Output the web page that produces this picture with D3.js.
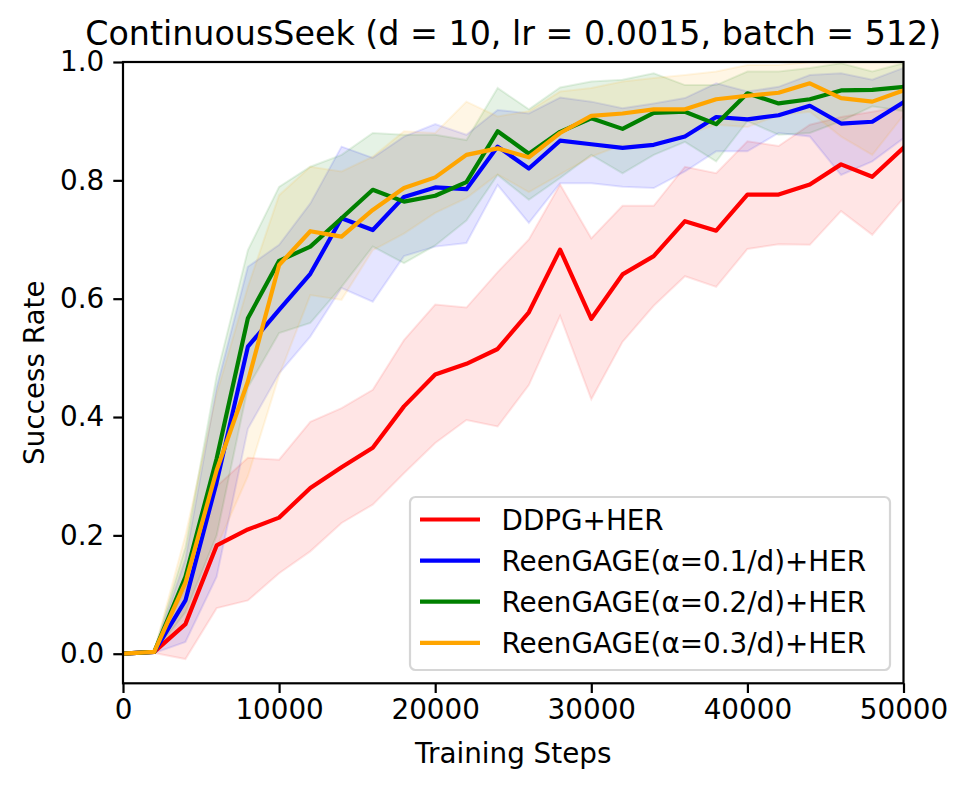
<!DOCTYPE html>
<html>
<head>
<meta charset="utf-8">
<script src="https://cdn.jsdelivr.net/npm/d3@7"></script>
<style>
  html, body { margin: 0; padding: 0; background: #fff; }
  svg { display: block; font-family: "DejaVu Sans", sans-serif; }
</style>
</head>
<body>
<svg id="chart" width="968" height="789"></svg>
<script>
// --- data ---
const steps = [0, 2000, 4000, 6000, 8000, 10000, 12000, 14000, 16000, 18000, 20000, 22000, 24000,
               26000, 28000, 30000, 32000, 34000, 36000, 38000, 40000, 42000, 44000, 46000, 48000, 50000];

const seriesNames = ["DDPG+HER", "ReenGAGE(α=0.1/d)+HER", "ReenGAGE(α=0.2/d)+HER", "ReenGAGE(α=0.3/d)+HER"];
const seriesColors = ["#ff0000", "#0000ff", "#008000", "#ffa500"];

const ddpgMean  = [0, 0.003, 0.05, 0.183, 0.21, 0.23, 0.28, 0.315, 0.348, 0.418, 0.472, 0.49, 0.515, 0.577, 0.683, 0.566, 0.641, 0.672, 0.731, 0.715, 0.776, 0.776, 0.793, 0.827, 0.806, 0.855];
const ddpgLow   = [0, 0.001, -0.009, 0.077, 0.09, 0.136, 0.173, 0.221, 0.252, 0.305, 0.356, 0.395, 0.384, 0.454, 0.571, 0.43, 0.527, 0.588, 0.638, 0.62, 0.684, 0.692, 0.691, 0.748, 0.708, 0.77];
const ddpgHigh  = [0, 0.005, 0.11, 0.283, 0.331, 0.328, 0.392, 0.415, 0.446, 0.53, 0.59, 0.585, 0.645, 0.70, 0.793, 0.702, 0.757, 0.757, 0.823, 0.812, 0.866, 0.858, 0.894, 0.907, 0.916, 0.925];

const reen1Mean = [0, 0.003, 0.09, 0.29, 0.519, 0.581, 0.642, 0.736, 0.716, 0.772, 0.788, 0.785, 0.857, 0.82, 0.867, 0.861, 0.855, 0.86, 0.874, 0.907, 0.903, 0.91, 0.926, 0.896, 0.899, 0.932];
const reen1Low  = [0, 0.001, 0.02, 0.13, 0.38, 0.474, 0.536, 0.618, 0.595, 0.672, 0.688, 0.694, 0.792, 0.728, 0.795, 0.795, 0.789, 0.787, 0.815, 0.849, 0.849, 0.88, 0.874, 0.809, 0.832, 0.871];
const reen1High = [0, 0.005, 0.16, 0.45, 0.654, 0.691, 0.761, 0.857, 0.838, 0.874, 0.895, 0.877, 0.919, 0.913, 0.94, 0.933, 0.922, 0.93, 0.939, 0.964, 0.95, 0.958, 0.978, 0.981, 0.97, 0.99];

const reen2Mean = [0, 0.003, 0.13, 0.33, 0.567, 0.664, 0.688, 0.736, 0.784, 0.764, 0.774, 0.797, 0.883, 0.845, 0.882, 0.905, 0.887, 0.914, 0.916, 0.895, 0.947, 0.93, 0.937, 0.952, 0.953, 0.958];
const reen2Low  = [0, 0.001, 0.07, 0.2, 0.45, 0.542, 0.559, 0.62, 0.688, 0.66, 0.69, 0.732, 0.809, 0.767, 0.804, 0.843, 0.812, 0.843, 0.865, 0.832, 0.9, 0.877, 0.88, 0.9, 0.925, 0.917];
const reen2High = [0, 0.005, 0.18, 0.47, 0.682, 0.789, 0.823, 0.843, 0.88, 0.877, 0.877, 0.868, 0.956, 0.92, 0.957, 0.967, 0.97, 0.981, 0.961, 0.961, 0.984, 0.984, 0.99, 0.998, 0.984, 0.998];

const reen3Mean = [0, 0.003, 0.12, 0.31, 0.46, 0.657, 0.714, 0.705, 0.75, 0.787, 0.805, 0.843, 0.854, 0.839, 0.88, 0.909, 0.913, 0.92, 0.92, 0.937, 0.943, 0.948, 0.964, 0.939, 0.933, 0.952];
const reen3Low  = [0, 0.001, 0.06, 0.18, 0.3, 0.47, 0.606, 0.598, 0.682, 0.71, 0.745, 0.77, 0.81, 0.78, 0.81, 0.84, 0.86, 0.86, 0.877, 0.894, 0.89, 0.91, 0.916, 0.874, 0.843, 0.91];
const reen3High = [0, 0.005, 0.2, 0.44, 0.62, 0.775, 0.823, 0.815, 0.84, 0.883, 0.88, 0.933, 0.908, 0.917, 0.95, 0.956, 0.967, 0.973, 0.978, 0.984, 0.995, 0.995, 1.0, 1.0, 1.0, 1.005];

const xTicks = [0, 10000, 20000, 30000, 40000, 50000];
const yTicks = [0.0, 0.2, 0.4, 0.6, 0.8, 1.0];

const titleText = "ContinuousSeek (d = 10, lr = 0.0015, batch = 512)";
const xLabelText = "Training Steps";
const yLabelText = "Success Rate";

// --- layout ---
const W = 968, H = 789;
const margin = { top: 62, right: 64.5, bottom: 105.7, left: 123 };
const innerW = W - margin.left - margin.right;
const innerH = H - margin.top - margin.bottom;
const fontSize = 27.8;
const lineW = 4.2;

const series = [
  { mean: ddpgMean,  low: ddpgLow,  high: ddpgHigh },
  { mean: reen1Mean, low: reen1Low, high: reen1High },
  { mean: reen2Mean, low: reen2Low, high: reen2High },
  { mean: reen3Mean, low: reen3Low, high: reen3High }
].map((s, i) => ({ ...s, name: seriesNames[i], color: seriesColors[i] }));

const svg = d3.select("#chart");

const x = d3.scaleLinear().domain([0, 50000]).range([0, innerW]);
const y = d3.scaleLinear().domain([-0.05, 1.0]).range([innerH, 0]);

svg.append("defs").append("clipPath").attr("id", "plot-clip")
  .append("rect").attr("width", innerW).attr("height", innerH);

const g = svg.append("g").attr("transform", `translate(${margin.left},${margin.top})`);
const plot = g.append("g").attr("clip-path", "url(#plot-clip)");

const area = d3.area()
  .x((d, i) => x(steps[i]))
  .y0(d => y(d[0]))
  .y1(d => y(d[1]));

const line = d3.line()
  .x((d, i) => x(steps[i]))
  .y(d => y(d));

// shaded bands first
series.forEach(s => {
  plot.append("path")
    .datum(s.low.map((v, i) => [v, s.high[i]]))
    .attr("d", area)
    .attr("fill", s.color)
    .attr("fill-opacity", 0.1)
    .attr("stroke", s.color)
    .attr("stroke-opacity", 0.1)
    .attr("stroke-width", 2);
});

// mean lines on top
series.forEach(s => {
  plot.append("path")
    .datum(s.mean)
    .attr("d", line)
    .attr("fill", "none")
    .attr("stroke", s.color)
    .attr("stroke-width", lineW)
    .attr("stroke-linejoin", "round")
    .attr("stroke-linecap", "square");
});

// --- axes ---
const xAxis = g.append("g")
  .attr("transform", `translate(0,${innerH})`)
  .call(d3.axisBottom(x).tickValues(xTicks).tickFormat(d3.format("d")).tickSize(9.7).tickPadding(6));

const yAxis = g.append("g")
  .call(d3.axisLeft(y).tickValues(yTicks).tickFormat(d3.format(".1f")).tickSize(9.7).tickPadding(9));

[xAxis, yAxis].forEach(ax => {
  ax.select(".domain").remove();
  ax.selectAll(".tick line").attr("stroke", "#000").attr("stroke-width", 2.2);
  ax.selectAll(".tick text")
    .attr("fill", "#000")
    .style("font-family", "'DejaVu Sans', sans-serif")
    .style("font-size", fontSize + "px");
});

// spines
g.append("rect")
  .attr("width", innerW).attr("height", innerH)
  .attr("fill", "none")
  .attr("stroke", "#000")
  .attr("stroke-width", 2.2);

// --- labels ---
svg.append("text")
  .attr("x", margin.left + innerW / 2)
  .attr("y", 45)
  .attr("text-anchor", "middle")
  .style("font-size", "33.3px")
  .text(titleText);

svg.append("text")
  .attr("x", margin.left + innerW / 2)
  .attr("y", 763)
  .attr("text-anchor", "middle")
  .style("font-size", fontSize + "px")
  .text(xLabelText);

svg.append("text")
  .attr("transform", `translate(44,${margin.top + innerH / 2}) rotate(-90)`)
  .attr("text-anchor", "middle")
  .style("font-size", fontSize + "px")
  .text(yLabelText);

// --- legend ---
const legend = svg.append("g").attr("transform", "translate(410,497)");
legend.append("rect")
  .attr("width", 480).attr("height", 173)
  .attr("rx", 5.5).attr("ry", 5.5)
  .attr("fill", "#fff").attr("fill-opacity", 0.8)
  .attr("stroke", "#cccccc").attr("stroke-opacity", 0.8)
  .attr("stroke-width", 2.2);

const items = legend.selectAll(".legend-item")
  .data(series)
  .enter()
  .append("g")
  .attr("class", "legend-item")
  .attr("transform", (d, i) => `translate(0,${22.5 + i * 41.1})`);

items.append("line")
  .attr("x1", 10).attr("x2", 70)
  .attr("stroke", d => d.color)
  .attr("stroke-width", lineW);

items.append("text")
  .attr("x", 91.5)
  .attr("y", 10)
  .style("font-size", fontSize + "px")
  .text(d => d.name);
</script>
</body>
</html>
